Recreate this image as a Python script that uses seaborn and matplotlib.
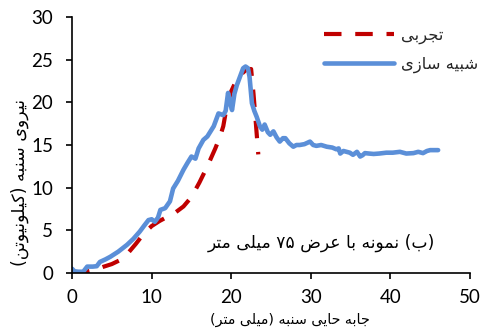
import re
import matplotlib
matplotlib.use("Agg")
import matplotlib.pyplot as plt
import pandas as pd
import seaborn as sns

# داده‌ها (خوانده‌شده از نمودار)
sim_x = [0, 0.3, 0.8, 1.4, 1.9, 2.6, 3.1, 3.5, 4.2, 4.8, 5.8, 6.9, 7.7, 8.5, 9.1,
         9.6, 10.0, 10.4, 10.8, 11.1, 11.7, 12.3, 12.7, 13.3, 14.0, 14.5, 15.0, 15.5,
         15.9, 16.5, 17.0, 17.8, 18.4, 19.0, 19.3, 19.6, 19.9, 20.1, 20.4, 20.7, 21.1,
         21.5, 21.8, 22.1, 22.3, 22.6, 22.9, 23.2, 23.6, 23.9, 24.2, 24.6, 24.9, 25.3,
         25.7, 26.1, 26.5, 26.8, 27.3, 27.8, 28.2, 28.6, 29.2, 29.9, 30.3, 30.7, 31.3,
         32.0, 32.7, 33.2, 33.5, 33.7, 34.1, 34.5, 34.9, 35.3, 35.8, 36.2, 36.5, 36.8,
         37.3, 37.9, 38.6, 39.5, 40.3, 41.2, 42.0, 42.9, 43.5, 44.1, 44.6, 45.0, 45.5, 46.0]
sim_y = [0.5, 0.2, 0.15, 0.15, 0.75, 0.75, 0.8, 1.3, 1.6, 1.9, 2.5, 3.3, 4.0, 4.85, 5.6,
         6.2, 6.3, 6.0, 6.5, 7.4, 7.6, 8.4, 9.9, 10.8, 12.1, 12.9, 13.65, 13.4,
         14.6, 15.6, 16.0, 17.2, 18.7, 18.5, 19.0, 21.1, 19.8, 19.1, 21.0, 22.0, 23.0,
         24.0, 24.2, 24.0, 23.0, 19.9, 19.0, 18.3, 17.2, 16.8, 17.4, 16.5, 16.2, 16.6,
         15.9, 15.4, 15.8, 15.8, 15.2, 14.8, 15.0, 15.0, 15.1, 15.4, 15.0, 14.9, 15.0,
         14.8, 14.7, 14.5, 14.6, 14.0, 14.3, 14.2, 14.1, 13.85, 14.2, 13.65, 13.8, 14.05,
         14.0, 13.95, 14.0, 14.1, 14.1, 14.2, 14.0, 14.05, 14.2, 14.05, 14.3, 14.4, 14.4, 14.4]

exp_x = [0, 1.0, 2.0, 3.0, 4.0, 5.0, 6.0, 7.0, 8.0, 9.0, 10.0, 11.0, 12.0, 13.0, 14.0,
         15.0, 16.0, 17.0, 18.0, 18.6, 19.0, 19.4, 20.0, 20.5, 21.0, 21.5, 22.0, 22.5,
         22.8, 23.1, 23.4]
exp_y = [0, 0.05, 0.2, 0.4, 0.75, 1.05, 1.5, 2.3, 3.4, 4.6, 5.5, 6.1, 6.6, 7.1, 7.8,
         8.9, 10.6, 12.5, 14.6, 16.0, 17.2, 19.3, 21.3, 22.3, 23.0, 23.5, 23.9, 23.9,
         21.0, 17.5, 13.9]

label_exp = "تجربی"
label_sim = "شبیه سازی"
x_title = "جابه حایی سنبه (میلی متر)"
y_title = "نیروی سنبه (کیلونیوتن)"
note = "(ب) نمونه با عرض ۷۵ میلی متر"

# شکل‌های حروف: (تنها، پایانی، آغازی، میانی)
FORMS = {
    "ا": ("\uFE8D", "\uFE8E", None, None),
    "ب": ("\uFE8F", "\uFE90", "\uFE91", "\uFE92"),
    "ت": ("\uFE95", "\uFE96", "\uFE97", "\uFE98"),
    "ج": ("\uFE9D", "\uFE9E", "\uFE9F", "\uFEA0"),
    "ح": ("\uFEA1", "\uFEA2", "\uFEA3", "\uFEA4"),
    "ر": ("\uFEAD", "\uFEAE", None, None),
    "ز": ("\uFEAF", "\uFEB0", None, None),
    "س": ("\uFEB1", "\uFEB2", "\uFEB3", "\uFEB4"),
    "ش": ("\uFEB5", "\uFEB6", "\uFEB7", "\uFEB8"),
    "ض": ("\uFEBD", "\uFEBE", "\uFEBF", "\uFEC0"),
    "ع": ("\uFEC9", "\uFECA", "\uFECB", "\uFECC"),
    "ل": ("\uFEDD", "\uFEDE", "\uFEDF", "\uFEE0"),
    "م": ("\uFEE1", "\uFEE2", "\uFEE3", "\uFEE4"),
    "ن": ("\uFEE5", "\uFEE6", "\uFEE7", "\uFEE8"),
    "ه": ("\uFEE9", "\uFEEA", "\uFEEB", "\uFEEC"),
    "و": ("\uFEED", "\uFEEE", None, None),
    "ی": ("\uFBFC", "\uFBFD", "\uFBFE", "\uFBFF"),
    "ک": ("\uFB8E", "\uFB8F", "\uFB90", "\uFB91"),
}


def rtl(text):
    out = []
    for i, c in enumerate(text):
        if c not in FORMS:
            out.append(c)
            continue
        prev = text[i - 1] if i > 0 else ""
        nxt = text[i + 1] if i + 1 < len(text) else ""
        jp = prev in FORMS and FORMS[prev][2] is not None
        jn = nxt in FORMS and FORMS[c][2] is not None
        iso, fin, ini, med = FORMS[c]
        out.append(med if jp and jn else fin if jp else ini if jn else iso)
    s = "".join(out)[::-1]
    s = s.translate(str.maketrans("()", ")("))
    return re.sub(r"[0-9۰-۹]+", lambda m: m.group(0)[::-1], s)


sns.set_theme(style="white")
plt.rcParams["font.family"] = ["Lato", "DejaVu Sans"]

fig = plt.figure(figsize=(4.87, 3.34), dpi=100)
ax = fig.add_axes([0.148, 0.1826, 0.817, 0.7665])

exp_df = pd.DataFrame({"x": exp_x, "y": exp_y})
sim_df = pd.DataFrame({"x": sim_x, "y": sim_y})
sns.lineplot(data=exp_df, x="x", y="y", ax=ax, sort=False, color="#C00000",
             linewidth=3, dashes=False, label=rtl(label_exp))
ax.lines[-1].set_dashes((4.2, 3.3))
sns.lineplot(data=sim_df, x="x", y="y", ax=ax, sort=False, color="#5B8FD8",
             linewidth=3.3, label=rtl(label_sim))

ax.set_xlim(0, 50)
ax.set_ylim(0, 30)
ax.set_xticks(range(0, 51, 10))
ax.set_yticks(range(0, 31, 5))
ax.set_xlabel("")
ax.set_ylabel("")
for side in ["top", "right"]:
    ax.spines[side].set_visible(False)
for side in ["left", "bottom"]:
    ax.spines[side].set_color("black")
    ax.spines[side].set_linewidth(1.2)
ax.tick_params(axis="both", direction="out", length=4.5, width=1.2, color="black",
               labelsize=13.5, labelcolor="black", bottom=True, left=True)
ax.tick_params(axis="y", pad=9)
ax.tick_params(axis="x", pad=7)

ax.legend(loc="upper left", bbox_to_anchor=(0.612, 0.99), frameon=False,
          handlelength=4.3, handletextpad=0.4, labelspacing=0.8, borderpad=0,
          prop={"family": "DejaVu Sans", "size": 11.8})

ax.text(45.6, 3.5, rtl(note), ha="right", va="center", fontsize=12.3,
        family="DejaVu Sans", color="black")
fig.text(290 / 487, 1 - 320 / 334, rtl(x_title), ha="center", va="center",
         fontsize=10.3, family="DejaVu Sans", color="black")
fig.text(20 / 487, 1 - 182 / 334, rtl(y_title), ha="center", va="center",
         rotation=90, fontsize=12.5, family="DejaVu Sans", color="black")

fig.savefig("out.png", dpi=100)
